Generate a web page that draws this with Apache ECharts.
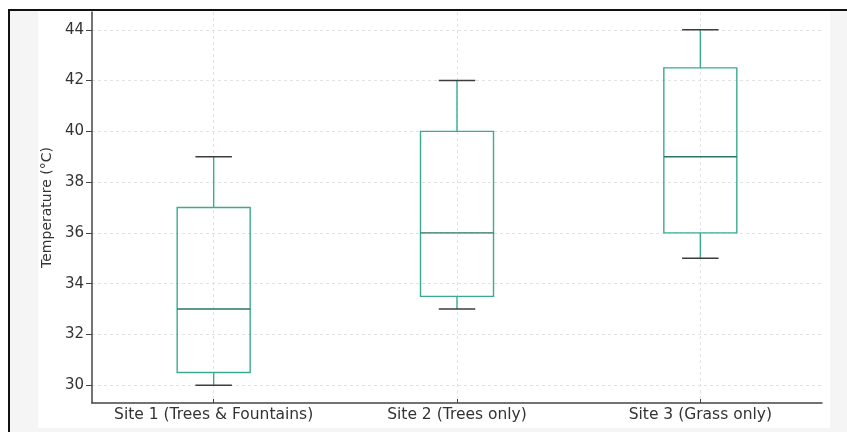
<!DOCTYPE html>
<html>
<head>
<meta charset="utf-8">
<script src="https://cdn.jsdelivr.net/npm/echarts@6/dist/echarts.min.js"></script>
<style>
  html, body { margin: 0; padding: 0; background: #ffffff; }
  #chart { width: 847px; height: 432px; }
</style>
</head>
<body>
<div id="chart"></div>
<script>
// Temperature distribution per site: whisker low, Q1, median, Q3, whisker high
const categories = ['Site 1 (Trees & Fountains)', 'Site 2 (Trees only)', 'Site 3 (Grass only)'];
const whiskerLow  = [30, 33, 35];
const quartile1   = [30.5, 33.5, 36];
const medians     = [33, 36, 39];
const quartile3   = [37, 40, 42.5];
const whiskerHigh = [39, 42, 44];
const yTicks = [30, 32, 34, 36, 38, 40, 42, 44];
const yMin = 29.3;
const yMax = 44.7;

const boxColor = '#3aab92';
const medianColor = '#2b7565';
const capColor = '#3d3d3d';
const textColor = '#333333';
const gridColor = '#dcdcdc';

const boxData = categories.map((c, i) => [i, whiskerLow[i], quartile1[i], medians[i], quartile3[i], whiskerHigh[i]]);

function renderBox(params, api) {
  const idx = api.value(0);
  const band = api.size([1, 0])[0];
  const boxHalf = band * 0.15;
  const capHalf = band * 0.075;
  const pLow = api.coord([idx, api.value(1)]);
  const pQ1 = api.coord([idx, api.value(2)]);
  const pMed = api.coord([idx, api.value(3)]);
  const pQ3 = api.coord([idx, api.value(4)]);
  const pHigh = api.coord([idx, api.value(5)]);
  const cx = pMed[0];
  const lineStyle = (color) => ({ stroke: color, lineWidth: 1.4, fill: null });
  return {
    type: 'group',
    children: [
      { type: 'line', shape: { x1: cx, y1: pQ1[1], x2: cx, y2: pLow[1] }, style: lineStyle(boxColor) },
      { type: 'line', shape: { x1: cx, y1: pQ3[1], x2: cx, y2: pHigh[1] }, style: lineStyle(boxColor) },
      { type: 'rect', shape: { x: cx - boxHalf, y: pQ3[1], width: boxHalf * 2, height: pQ1[1] - pQ3[1] }, style: lineStyle(boxColor) },
      { type: 'line', shape: { x1: cx - boxHalf, y1: pMed[1], x2: cx + boxHalf, y2: pMed[1] }, style: lineStyle(medianColor) },
      { type: 'line', shape: { x1: cx - capHalf, y1: pLow[1], x2: cx + capHalf, y2: pLow[1] }, style: lineStyle(capColor) },
      { type: 'line', shape: { x1: cx - capHalf, y1: pHigh[1], x2: cx + capHalf, y2: pHigh[1] }, style: lineStyle(capColor) }
    ]
  };
}

const chart = echarts.init(document.getElementById('chart'), null, { renderer: 'canvas' });
chart.setOption({
  animation: false,
  backgroundColor: '#ffffff',
  textStyle: { fontFamily: 'DejaVu Sans' },
  graphic: [
    { type: 'rect', z: -10, shape: { x: 9, y: 10, width: 860, height: 440 },
      style: { fill: '#f5f5f5', stroke: '#111111', lineWidth: 2 } },
    { type: 'rect', z: -9, shape: { x: 38, y: 11, width: 792, height: 417 },
      style: { fill: '#ffffff' } }
  ],
  grid: { left: 92, right: 25, top: 12, bottom: 29, containLabel: false },
  xAxis: {
    type: 'category',
    data: categories,
    boundaryGap: true,
    axisLine: { lineStyle: { color: '#444444', width: 1.5 } },
    axisTick: { show: true, inside: true, length: 4, alignWithLabel: true, lineStyle: { color: '#444444' } },
    axisLabel: { color: textColor, fontSize: 15.5, margin: 4, interval: 0, hideOverlap: false, fontFamily: 'DejaVu Sans' },
    splitLine: { show: true, alignWithLabel: true, interval: 0, lineStyle: { color: gridColor, type: [3, 3], width: 0.8 } }
  },
  yAxis: {
    type: 'value',
    min: yMin,
    max: yMax,
    name: 'Temperature (°C)',
    nameLocation: 'middle',
    nameGap: 29,
    nameTextStyle: { color: textColor, fontSize: 14, fontFamily: 'DejaVu Sans' },
    axisLine: { show: true, lineStyle: { color: '#444444', width: 1.5 } },
    axisTick: { show: true, length: 6, customValues: yTicks, lineStyle: { color: '#444444' } },
    axisLabel: { color: textColor, fontSize: 15, margin: 8, customValues: yTicks, fontFamily: 'DejaVu Sans' },
    splitLine: { show: true, customValues: yTicks, lineStyle: { color: gridColor, type: [3, 3], width: 0.8 } }
  },
  series: [{
    type: 'custom',
    renderItem: renderBox,
    encode: { x: 0, y: [1, 2, 3, 4, 5] },
    data: boxData,
    z: 5
  }]
});
</script>
</body>
</html>
